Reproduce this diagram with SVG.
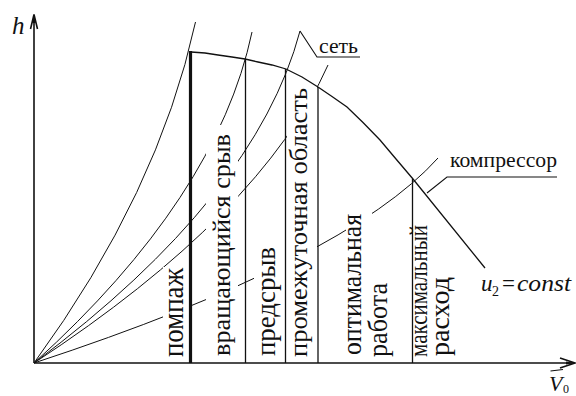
<svg xmlns="http://www.w3.org/2000/svg" width="576" height="396" viewBox="0 0 576 396">
  <style>
    .net { fill: none; stroke: #111; stroke-width: 1; }
    .fan { fill: none; stroke: #111; stroke-width: 1.3; }
    .bound { stroke: #111; stroke-width: 1.3; fill: none; }
    .axis { stroke: #111; stroke-width: 1.6; fill: none; }
    .lead { stroke: #111; stroke-width: 1.1; fill: none; }
    text { font-family: Liberation Serif, DejaVu Serif, Noto Serif, Times, serif; fill: #111; }
    .it { font-style: italic; }
  </style>
  <defs>
    <mask id="textgaps" maskUnits="userSpaceOnUse" x="0" y="0" width="576" height="396">
      <rect x="0" y="0" width="576" height="396" fill="#fff"/>
      <rect x="163" y="267" width="27" height="100" fill="#000"/>
      <rect x="206" y="125" width="32" height="240" fill="#000"/>
      <rect x="254" y="240" width="33" height="125" fill="#000"/>
      <rect x="287" y="84" width="30" height="280" fill="#000"/>
      <rect x="346" y="205" width="26" height="160" fill="#000"/>
    </mask>
  </defs>
  <rect x="0" y="0" width="576" height="396" fill="#fff"/>

  <g id="connectors">
    <g id="network-curves" mask="url(#textgaps)">
      <path class="net" d="M34,363 Q158.5,192.5 195.5,22"/>
      <path class="net" d="M34,363 Q217,197.5 252,32"/>
      <path class="net" d="M34,363 Q256,197 300,31"/>
      <path class="net" d="M34,363 Q261.5,214 328,65"/>
      <path class="net" d="M34,363 Q346,260.5 438,158"/>
    </g>
    <polyline id="fan-curve" class="fan" points="191,52 205,53 218,55 232,57 245,59 258,62 272,65 286,69 302,77 318,87 332,96.5 347,107 363,122.5 380,140 396,159 413,179 485,268"/>
    <g id="boundaries">
      <line x1="190.5" y1="51" x2="190.5" y2="363" stroke="#111" stroke-width="3.2"/>
      <line class="bound" x1="245.5" y1="59" x2="245.5" y2="363"/>
      <line class="bound" x1="285.5" y1="69" x2="285.5" y2="363"/>
      <line class="bound" x1="318" y1="87" x2="318" y2="363"/>
      <line class="bound" x1="412.5" y1="179" x2="412.5" y2="363"/>
    </g>
    <g id="axes">
      <line class="axis" x1="34" y1="363" x2="34" y2="16"/>
      <path class="axis" d="M30.5,29 L34,14.5 L37.5,29"/>
      <path d="M34,14 L32.6,23 L35.4,23 Z" fill="#111"/>
      <line class="axis" x1="34" y1="363" x2="574" y2="363"/>
      <path class="axis" d="M560,358 L575,363 L560,368"/>
      <path d="M575,363 L566,361.6 L566,364.4 Z" fill="#111"/>
    </g>
    <g id="leaders">
      <polyline class="lead" points="300,31 317,57 360,57"/>
      <polyline class="lead" points="427,193 447,177 557,177"/>
      <line class="lead" x1="550.5" y1="371" x2="563" y2="369.5"/>
    </g>
  </g>

  <g id="label-h"><text class="it" x="12" y="34" font-size="25">h</text></g>
  <g id="label-net"><text x="319" y="53" font-size="22" textLength="39" lengthAdjust="spacingAndGlyphs">сеть</text></g>
  <g id="label-compressor"><text x="450" y="167" font-size="22" textLength="107" lengthAdjust="spacingAndGlyphs">компрессор</text></g>
  <g id="label-u2"><text class="it" x="481" y="291" font-size="23">u<tspan x="492" y="296" font-size="14" font-style="normal">2</tspan><tspan x="502" y="291" font-style="normal">=</tspan><tspan x="517" y="291" textLength="54" lengthAdjust="spacingAndGlyphs">const</tspan></text></g>
  <g id="label-v0"><text class="it" x="549" y="391" font-size="22">V<tspan x="563" y="393" font-size="12" font-style="normal">0</tspan></text></g>

  <g id="zone-surge"><text transform="translate(182.5,357) rotate(-90)" font-size="29" textLength="89" lengthAdjust="spacingAndGlyphs">помпаж</text></g>
  <g id="zone-rotating-stall"><text transform="translate(230,356) rotate(-90)" font-size="26" textLength="222" lengthAdjust="spacingAndGlyphs">вращающийся срыв</text></g>
  <g id="zone-prestall"><text transform="translate(274.5,356) rotate(-90)" font-size="27" textLength="109" lengthAdjust="spacingAndGlyphs">предсрыв</text></g>
  <g id="zone-intermediate"><text transform="translate(307,357) rotate(-90)" font-size="26" textLength="269" lengthAdjust="spacingAndGlyphs">промежуточная область</text></g>
  <g id="zone-optimal">
    <text transform="translate(361,355) rotate(-90)" font-size="27" textLength="141" lengthAdjust="spacingAndGlyphs">оптимальная</text>
    <text transform="translate(387,357) rotate(-90)" font-size="27" textLength="74" lengthAdjust="spacingAndGlyphs">работа</text>
  </g>
  <g id="zone-max-flow">
    <text transform="translate(427,357) rotate(-90)" font-size="26" textLength="132" lengthAdjust="spacingAndGlyphs">максимальный</text>
    <text transform="translate(449,356) rotate(-90)" font-size="27" textLength="79" lengthAdjust="spacingAndGlyphs">расход</text>
  </g>
</svg>
